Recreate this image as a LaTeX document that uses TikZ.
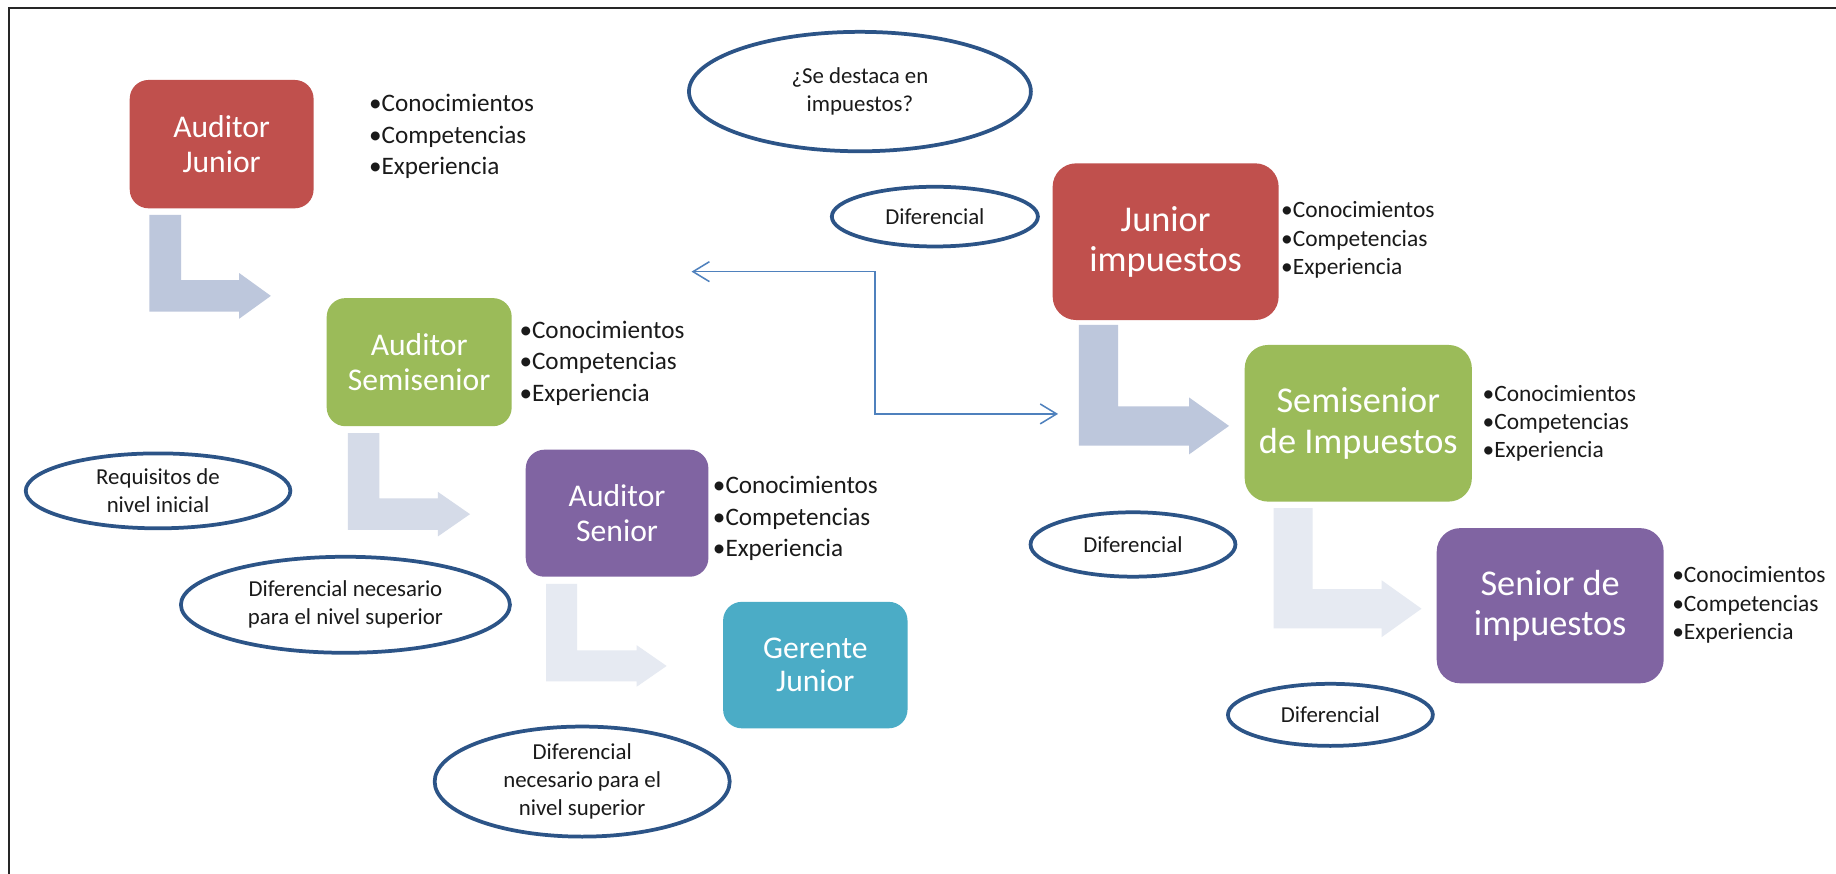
\documentclass[tikz,border=0pt]{standalone}
\usepackage{fontspec}
\setmainfont{Carlito}
\usetikzlibrary{shapes.geometric,arrows.meta}

\definecolor{boxred}{HTML}{C0504D}
\definecolor{boxgreen}{HTML}{9BBB59}
\definecolor{boxpurple}{HTML}{8064A2}
\definecolor{boxteal}{HTML}{4BACC6}
\definecolor{ovalline}{HTML}{2C5487}
\definecolor{linkblue}{HTML}{4F81BD}
\definecolor{flowA}{HTML}{BDC7DC}
\definecolor{flowB}{HTML}{D5DBE8}
\definecolor{flowC}{HTML}{E6EAF2}
\definecolor{inktext}{HTML}{1A1A1A}

% L-shaped block arrow: colour, left x, top y, bar width, bottom y, head base x, tip x, head overhang
\newcommand\bentarrow[8]{%
  \fill[#1] (#2,#3) -- (#2+#4,#3) -- (#2+#4,#5-#4) -- (#6,#5-#4) -- (#6,#5-#4-#8)
    -- (#7,#5-#4/2) -- (#6,#5+#8) -- (#6,#5) -- (#2,#5) -- cycle;}

\tikzset{
  level/.style={rectangle, rounded corners=16pt, draw=none, inner sep=0pt,
    text=white, align=center},
  lowlevel/.style={level, font=\fontsize{27}{30}\selectfont},
  taxlevel/.style={level, rounded corners=20pt, font=\fontsize{31}{34.5}\selectfont},
  oval/.style={ellipse, draw=ovalline, line width=3.2pt, inner sep=0pt,
    align=center, text=inktext, font=\fontsize{19.5}{24}\selectfont},
  reqs/.style={anchor=west, align=left, inner sep=0pt, text=inktext},
  reqsL/.style={reqs, font=\fontsize{21.5}{27}\selectfont},
  reqsR/.style={reqs, font=\fontsize{20}{24.2}\selectfont},
  link/.style={linkblue, line width=1.3pt,
    {Straight Barb[length=14pt,width=17pt]}-{Straight Barb[length=14pt,width=17pt]}},
}

\begin{document}
\begin{tikzpicture}[x=1pt,y=-1pt]
\useasboundingbox (0,0) rectangle (1568,746);
\fill[white] (0,0) rectangle (1568,746);

% page frame (left and top edges)
\draw[black!85, line width=1.7pt] (7.7,746) -- (7.7,6.8) -- (1568,6.8);

% progression arrows
\bentarrow{flowA}{127.6}{183.6}{27}{266.2}{204.3}{231.3}{6}
\bentarrow{flowB}{297}{370}{27}{452.6}{374}{401.4}{5.5}
\bentarrow{flowC}{466.3}{498.7}{26.5}{582}{543.7}{569.3}{4.5}
\bentarrow{flowA}{921.4}{277.5}{33.5}{380.5}{1015.6}{1049.6}{7.5}
\bentarrow{flowC}{1087.6}{434}{33.5}{536.6}{1180}{1214}{7.5}

% audit career
\node[lowlevel, fill=boxred, minimum width=157pt, minimum height=109.6pt] (aj) at (189.3,123.1) {Auditor\\Junior};
\node[lowlevel, fill=boxgreen, minimum width=158pt, minimum height=109.4pt] (as) at (358,309.3) {Auditor\\Semisenior};
\node[lowlevel, fill=boxpurple, minimum width=156pt, minimum height=108.5pt] (asr) at (527,438.3) {Auditor\\Senior};
\node[lowlevel, font=\fontsize{27}{28.5}\selectfont, fill=boxteal, minimum width=157.5pt, minimum height=108pt] (gj) at (696.3,568) {Gerente\\Junior};

% tax career
\node[taxlevel, fill=boxred, minimum width=193pt, minimum height=133.8pt] (ji) at (995.5,206.4) {Junior\\impuestos};
\node[taxlevel, fill=boxgreen, minimum width=194pt, minimum height=133.8pt] (ssi) at (1160,361.5) {Semisenior\\de Impuestos};
\node[taxlevel, fill=boxpurple, minimum width=193.8pt, minimum height=132.5pt] (si) at (1323.9,517.3) {Senior de\\impuestos};

% requirement lists
\node[reqsL] (raj) at (315,116.7) {•Conocimientos\\•Competencias\\•Experiencia};
\node[reqsL] (ras) at (443.5,310) {•Conocimientos\\•Competencias\\•Experiencia};
\node[reqsL] (rasr) at (608.7,443) {•Conocimientos\\•Competencias\\•Experiencia};
\node[reqsR] (rji) at (1094,205) {•Conocimientos\\•Competencias\\•Experiencia};
\node[reqsR] (rssi) at (1266,361.5) {•Conocimientos\\•Competencias\\•Experiencia};
\node[reqsR] (rsi) at (1428,516.6) {•Conocimientos\\•Competencias\\•Experiencia};

% notes
\node[oval, minimum width=292pt, minimum height=102pt] (q) at (734.4,78.2) {¿Se destaca en\\impuestos?};
\node[oval, minimum width=176pt, minimum height=51pt] (d1) at (798.4,185) {Diferencial};
\node[oval, minimum width=226pt, minimum height=64pt] (req) at (135,419.2) {Requisitos de\\nivel inicial};
\node[oval, minimum width=281pt, minimum height=82pt] (dn1) at (295,516.5) {Diferencial necesario\\para el nivel superior};
\node[oval, minimum width=252pt, minimum height=94pt] (dn2) at (497.2,667.5) {Diferencial\\necesario para el\\nivel superior};
\node[oval, minimum width=175pt, minimum height=55pt] (d2) at (967.6,465) {Diferencial};
\node[oval, minimum width=175pt, minimum height=53pt] (d3) at (1136.2,610.5) {Diferencial};

% switch between careers
\coordinate (tipL) at (590.6,232);
\coordinate (bendM) at (747.2,292);
\coordinate (tipR) at (903.6,353.5);
\draw[link] (tipL) -| (bendM) |- (tipR);
\end{tikzpicture}
\end{document}
